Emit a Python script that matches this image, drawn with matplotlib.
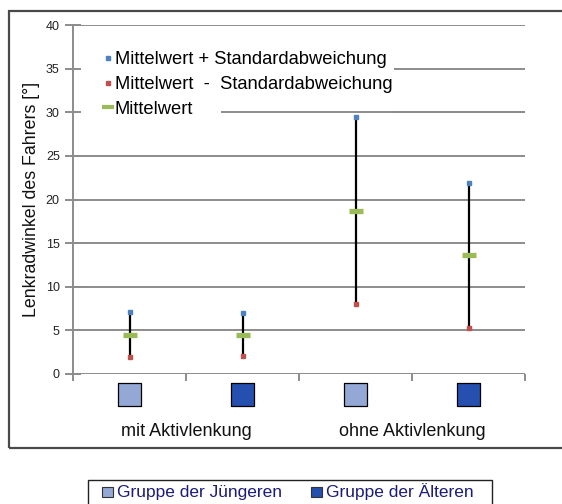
import matplotlib
matplotlib.use("Agg")
import matplotlib.pyplot as plt
from matplotlib.patches import Rectangle
from matplotlib.lines import Line2D

plt.rcParams['font.family'] = ['Liberation Sans', 'DejaVu Sans']

# ---- data ----
groups = ["Gruppe der Jüngeren", "Gruppe der Älteren",
          "Gruppe der Jüngeren", "Gruppe der Älteren"]
categories = ["mit Aktivlenkung", "ohne Aktivlenkung"]
mean_vals = [4.5, 4.5, 18.7, 13.6]
upper_vals = [7.1, 7.0, 29.4, 21.9]
lower_vals = [1.9, 2.1, 8.0, 5.3]
yticks = [0, 5, 10, 15, 20, 25, 30, 35, 40]
legend_labels = ["Mittelwert + Standardabweichung",
                 "Mittelwert  -  Standardabweichung",
                 "Mittelwert"]
group_labels = ["Gruppe der Jüngeren", "Gruppe der Älteren"]

c_up = "#4F81BD"
c_lo = "#C0504D"
c_mean = "#9BBB59"
c_light = "#94A8D6"
c_dark = "#2650AF"
grid_c = "#8C8C8C"
navy = "#1C1C78"

W, H = 562, 504
fig = plt.figure(figsize=(W / 100, H / 100), dpi=100)

ax = fig.add_axes([73 / W, 1 - 374 / H, (525 - 73) / W, (374 - 25) / H])
xs = [0.5, 1.5, 2.5, 3.5]
ax.set_xlim(0, 4)
ax.set_ylim(0, 40)

# grid (drawn as lines so the ticks can sit above the legend)
ax.hlines(yticks, 0, 4, color=grid_c, lw=1.4, zorder=0.5)
ax.set_yticks(yticks)
for s in ["top", "right", "bottom"]:
    ax.spines[s].set_visible(False)
ax.spines["left"].set_color(grid_c)
ax.spines["left"].set_linewidth(1.4)
ax.tick_params(axis="y", direction="inout", length=11, width=1.4, color=grid_c,
               labelsize=9, pad=4, labelcolor="#222222")
ax.set_xticks([0, 1, 2, 3, 4])
ax.set_xticklabels([])
ax.tick_params(axis="x", direction="out", length=5, width=1.4, color=grid_c)
ax.yaxis.set_zorder(3)
ax.xaxis.set_zorder(3)

# error bars
ax.vlines(xs, lower_vals, upper_vals, color="black", lw=1.6, zorder=3)
ax.plot(xs, upper_vals, ls="none", marker="s", ms=3.4, color=c_up, mec=c_up, zorder=4)
ax.plot(xs, lower_vals, ls="none", marker="s", ms=3.4, color=c_lo, mec=c_lo, zorder=4)
ax.plot(xs, mean_vals, ls="none", marker="_", ms=10.5, mew=3.8, color=c_mean, zorder=5)

# category squares under the axis
sq_colors = [c_light, c_dark, c_light, c_dark]
ax.scatter(xs, [-2.3] * 4, marker="s", s=16.5 ** 2, c=sq_colors, edgecolors="black",
           linewidths=0.9, clip_on=False, zorder=5)
for i, cat in enumerate(categories):
    ax.text(2 * i + 1, -6.55, cat, ha="center", va="center", fontsize=13,
            color="#111111", clip_on=False)

ax.set_ylabel("Lenkradwinkel des Fahrers [°]", fontsize=12.8, color="#111111",
              labelpad=4)

# inner legend (its white box hides the grid left of the entries)
fs_leg = 13.2
px_per_em = fs_leg * 100 / 72
handles = [
    Line2D([], [], ls="none", marker="s", ms=2.8, color=c_up),
    Line2D([], [], ls="none", marker="s", ms=2.8, color=c_lo),
    Line2D([], [], ls="none", marker="_", ms=9, mew=3, color=c_mean),
]
leg = ax.legend(handles, legend_labels, loc="upper left",
                bbox_to_anchor=(0.004, 0.93), fontsize=fs_leg, frameon=True,
                framealpha=1, facecolor="white", edgecolor="none", fancybox=False,
                handlelength=62 / px_per_em, handletextpad=-24 / px_per_em,
                labelspacing=0.42, borderpad=0.1, borderaxespad=0)
leg.set_zorder(2)
# the 30-gridline shows beside the short "Mittelwert" entry
ax.axhline(30, xmin=0.33, xmax=1, color=grid_c, lw=1.4, zorder=2.5)

# outer frame
fig.patches.append(Rectangle((9 / W, 1 - 448 / H), 1.0, (448 - 11) / H,
                             transform=fig.transFigure, fill=False,
                             edgecolor="#4A4A4A", lw=1.6))
# bottom legend
fig.patches.append(Rectangle((88 / W, -0.05), (492 - 88) / W, 0.05 + 1 - 480 / H,
                             transform=fig.transFigure, fill=False,
                             edgecolor="#222222", lw=1.0))
for (px, tx, col, lab) in [(102, 117, c_light, group_labels[0]),
                           (311, 326, c_dark, group_labels[1])]:
    fig.patches.append(Rectangle((px / W, 1 - 497 / H), 10.5 / W, 10 / H,
                                 transform=fig.transFigure, facecolor=col,
                                 edgecolor="#333333", lw=0.8))
    fig.text(tx / W, 1 - 492 / H, lab, ha="left", va="center", fontsize=12.5,
             color=navy)

fig.savefig("out.png", dpi=100)
